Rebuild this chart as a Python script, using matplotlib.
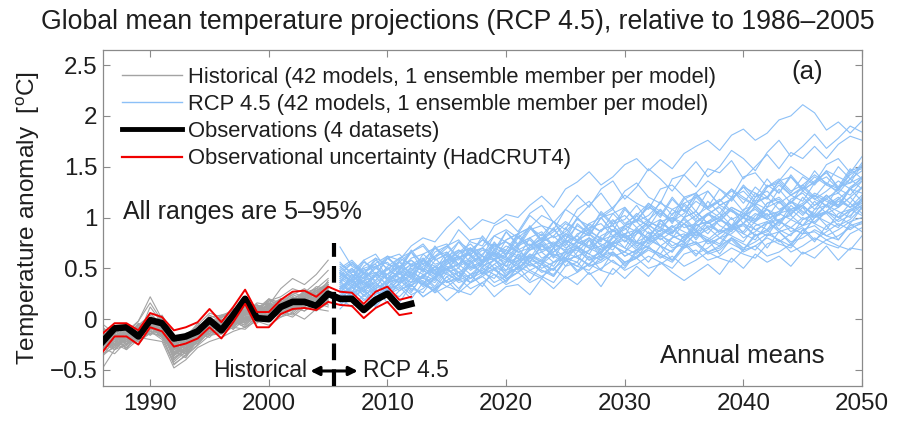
import matplotlib
matplotlib.use('Agg')
import matplotlib.pyplot as plt
from matplotlib.lines import Line2D
import numpy as np

plt.rcParams['font.family'] = ['Liberation Sans', 'DejaVu Sans']
plt.rcParams['mathtext.fontset'] = 'custom'
plt.rcParams['mathtext.rm'] = 'Liberation Sans'
plt.rcParams['axes.unicode_minus'] = True

# ---------------- data ----------------
hist_years = list(range(1986, 2006))
rcp_years = list(range(2006, 2051))
obs_years = list(range(1986, 2013))

obs_mean = [-0.22, -0.09, -0.08, -0.17, -0.01, -0.04, -0.19, -0.17, -0.12, -0.01,
            -0.11, 0.04, 0.20, 0.01, 0.00, 0.12, 0.17, 0.17, 0.13, 0.25,
            0.20, 0.20, 0.09, 0.19, 0.25, 0.12, 0.15]
obs_upper = [-0.14, -0.04, -0.04, -0.11, 0.06, 0.02, -0.11, -0.08, -0.03, 0.10,
             -0.03, 0.12, 0.29, 0.07, 0.07, 0.19, 0.27, 0.28, 0.22, 0.32,
             0.27, 0.26, 0.15, 0.27, 0.32, 0.19, 0.22]
obs_lower = [-0.32, -0.17, -0.17, -0.25, -0.08, -0.12, -0.27, -0.24, -0.19, -0.08,
             -0.19, -0.03, 0.15, -0.08, -0.08, 0.05, 0.10, 0.11, 0.09, 0.17,
             0.14, 0.13, 0.01, 0.11, 0.17, 0.04, 0.06]

# historical model anomalies, hundredths of a degree (1986-2005)
hist_models = [
    [-22,-15,-30,-10,-5, -12,-35,-28,-18,-10, -8,2,-4,10,6, 14,8,20,16,28],
    [-15,-25,-10,-18,2, -5,-30,-20,-22,-5, -12,-2,8,0,12, 10,18,12,24,20],
    [-30,-20,-18,-5,-12, -2,-25,-32,-12,-15, 0,-6,4,12,2, 18,12,22,28,18],
    [-10,-18,-22,-12,0, -10,-40,-30,-20,-2, -8,6,0,4,16, 8,22,16,20,32],
    [-25,-12,-20,-8,-15, -6,-28,-22,-8,-12, -2,-10,8,4,14, 6,20,26,18,30],
    [-18,-28,-12,-20,-2, -15,-45,-35,-25,-12, -15,-5,2,-2,8, 4,12,8,18,14],
    [-35,-22,-28,-15,-8, -18,-32,-38,-20,-5, -10,0,-6,6,4, 12,6,16,14,22],
    [-12,-8,-15,-2,22, 0,-20,-15,-8,2, 4,8,12,6,20, 16,24,30,22,38],
    [-20,-30,-18,-25,-10, -4,-22,-28,-14,-18, -6,4,-2,10,8, 16,14,18,26,24],
    [-28,-18,-8,-20,-6, -12,-36,-24,-16,-6, 0,-8,6,2,12, 18,10,24,20,34],
    [-8,-20,-14,-6,4, -6,-26,-18,-4,-10, 2,-4,10,14,6, 20,16,26,30,40],
    [-48,-30,-25,-18,-20, -22,-48,-40,-28,-22, -18,-12,-8,-2,-6, 2,6,0,10,8],
    [-15,-10,-22,-14,-4, 2,-18,-26,-10,-4, -8,6,4,12,16, 10,20,18,28,26],
    [-22,-26,-16,-8,-12, -14,-30,-20,-24,-8, -4,-10,0,8,4, 14,10,20,16,24],
    [-5,-14,-8,-16,12, -4,-24,-14,-10,4, -2,10,6,16,14, 30,40,34,44,58],
    [-32,-24,-30,-20,-14, -8,-38,-30,-14,-16, -10,-2,-8,2,0, 6,12,8,16,12],
    [-18,-12,-20,-10,-8, -16,-28,-34,-18,-8, -6,-2,10,4,10, 12,18,24,20,26],
    [-26,-16,-12,-22,-2, -10,-34,-22,-20,-12, -4,2,-4,8,14, 8,16,14,24,22],
    [-12,-22,-18,-4,-10, -2,-22,-30,-12,-6, -12,0,6,2,10, 18,14,22,20,30],
    [-20,-14,-26,-12,2, -8,-30,-26,-16,-2, -6,4,2,12,8, 14,22,18,26,36],
    [-36,-26,-20,-24,-12, -18,-42,-32,-22,-14, -12,-6,-2,4,-2, 8,4,14,12,18],
    [-14,-20,-10,-16,-6, 4,-16,-20,-6,-8, 4,-2,12,8,18, 14,26,22,32,30],
    [-24,-18,-14,-6,-16, -6,-32,-36,-18,-10, -2,-8,2,6,10, 16,12,20,24,20],
    [-10,-16,-24,-14,-2, -12,-28,-18,-12,0, -6,8,4,10,20, 12,18,28,24,34],
    [-28,-34,-22,-16,-8, -14,-36,-28,-24,-12, -14,-4,0,-4,6, 2,10,16,12,20],
    [-18,-8,-16,-12,0, -6,-26,-32,-14,-4, 0,-6,8,14,8, 16,22,18,30,28],
    [-22,-28,-18,-10,-4, -10,-34,-24,-10,-14, -8,0,-4,6,14, 10,14,22,18,26],
    [-16,-12,-8,-18,-6, 0,-20,-22,-16,-6, -2,6,10,4,12, 20,16,24,30,26],
    [-30,-16,-24,-14,-10, -12,-40,-28,-18,-8, -10,2,-2,8,6, 10,18,14,20,24],
    [-8,-18,-12,-2,16, -2,-22,-16,-6,6, 2,10,14,8,18, 22,30,26,36,48],
    [-26,-20,-28,-18,-12, -20,-44,-36,-26,-16, -14,-8,-10,0,2, 6,2,12,8,16],
    [-14,-22,-14,-8,0, -8,-24,-20,-12,-2, -4,2,8,12,6, 14,20,26,22,28],
    [-20,-10,-18,-6,-2, -4,-28,-34,-16,-10, -6,4,0,10,12, 8,16,22,26,32],
    [-34,-28,-16,-22,-14, -16,-32,-26,-20,-10, -8,-2,-8,2,4, 12,8,16,20,14],
    [-12,-6,-14,-10,6, -6,-22,-24,-8,-2, 2,8,4,14,10, 18,24,20,28,34],
    [-24,-30,-20,-12,-6, -10,-30,-22,-14,-12, -10,-4,2,0,10, 12,10,18,16,22],
    [-16,-24,-10,-14,-4, -14,-38,-30,-16,-6, -2,4,0,6,16, 10,20,16,22,30],
    [-22,-14,-26,-8,-8, -2,-26,-24,-10,-4, -6,6,8,2,12, 16,12,26,24,28],
    [-28,-22,-12,-18,-10, -12,-30,-34,-22,-10, -12,-4,4,6,2, 14,8,18,22,26],
    [-18,-26,-16,-6,-2, -8,-26,-18,-12,-8, 0,-6,6,10,8, 12,18,22,18,24],
    [-10,-14,-20,-12,0, -4,-24,-28,-14,-4, -4,2,10,6,14, 20,16,24,28,36],
    [-26,-18,-22,-14,-8, -16,-34,-26,-18,-14, -8,-2,-6,4,8, 6,14,12,20,18],
]

# RCP4.5 model anomalies, hundredths of a degree (2006-2050)
rcp_models = [
    [71,52,45,55,62, 58,72,80,76,90, 101,88,98,94,103, 100,112,121,110,128, 135,145,132,140,152, 158,146,157,148,163, 170,176,166,181,187, 176,183,196,200,211, 203,186,194,183,195],
    [45,38,56,50,62, 48,66,74,60,70, 88,76,72,92,98, 86,104,112,95,108, 122,110,128,136,118, 130,148,138,126,142, 155,140,150,166,158, 146,164,176,160,170, 182,168,178,190,184],
    [28,44,30,38,50, 41,36,58,52,47, 64,70,55,68,78, 84,102,92,88,108, 100,112,124,108,126, 134,120,114,138,142, 130,148,144,156,138, 150,162,148,164,158, 170,158,172,180,176],
    [14,24,8,20,30, 16,34,22,30,18, 28,24,36,22,32, 34,24,40,30,42, 34,46,32,50,40, 52,42,56,46,38, 46,54,44,60,50, 64,56,62,52,66, 60,72,58,70,68],
    [26,40,22,34,30, 46,28,42,52,36, 40,58,44,54,62, 48,64,56,70,52, 66,78,60,74,82, 70,86,72,80,94, 78,92,86,100,84, 96,104,88,98,110, 94,106,100,114,104],
    [38,26,46,32,44, 52,40,58,44,62, 50,70,56,74,64, 82,68,76,90,72, 94,84,100,86,108, 96,112,100,118,106, 122,110,116,128,114, 130,120,136,124,140, 132,146,128,142,150],
    [18,32,24,14,36, 40,26,44,32,50, 38,56,44,60,42, 64,52,58,70,60, 56,78,64,82,70, 88,74,84,92,78, 94,84,98,90,104, 96,108,94,112,102, 116,104,110,120,108],
    [48,36,52,60,40, 56,66,48,70,62, 58,78,80,64,86, 72,90,82,96,78, 100,86,106,94,98, 112,96,116,102,120, 106,126,112,118,130, 116,132,124,140,126, 136,144,130,148,138],
    [30,40,26,44,34, 48,32,50,44,58, 42,62,50,66,52, 70,56,74,60,78, 70,80,66,88,76, 90,78,98,84,100, 88,104,96,108,94, 112,100,116,102,120, 108,122,112,128,116],
    [36,50,32,46,44, 58,42,60,48,66, 54,70,58,76,62, 80,72,84,70,90, 76,94,86,98,82, 102,90,108,94,112, 98,116,104,120,106, 124,110,128,114,132, 120,134,124,138,128],
    [10,22,28,12,26, 32,20,36,26,42, 30,44,32,50,36, 52,38,54,42,60, 46,62,48,66,52, 68,56,72,58,74, 62,78,64,80,68, 84,70,86,74,88, 76,92,78,94,86],
    [52,40,58,44,60, 50,68,54,72,58, 76,62,82,68,86, 74,92,78,96,82, 100,88,104,92,110, 96,114,102,120,106, 124,110,128,116,132, 120,138,124,142,128, 146,132,150,138,154],
    [34,26,30,44,40, 36,52,48,40,56, 62,50,54,66,58, 52,70,76,64,60, 78,84,72,80,90, 76,82,94,88,80, 96,104,92,86,102, 108,98,104,116,106, 100,112,120,110,118],
    [42,56,46,38,52, 60,54,48,66,72, 60,68,78,70,64, 84,90,78,86,96, 88,82,100,108,94, 102,114,106,98,118, 124,110,116,128,120, 112,130,138,126,132, 142,134,128,146,150],
    [20,30,38,26,22, 36,44,32,40,50, 42,36,52,58,46, 50,62,56,48,64, 70,58,66,74,62, 68,80,72,66,82, 88,76,84,92,80, 86,96,88,82,98, 104,92,98,108,102],
    [40,32,46,52,38, 48,58,50,44,62, 68,56,64,74,66, 60,80,86,72,78, 92,84,76,96,102, 90,98,108,96,104, 116,108,100,120,126, 114,120,132,122,116, 134,140,128,138,146],
    [26,36,30,24,40, 46,36,42,52,44, 38,56,62,50,48, 64,58,54,70,76, 62,68,80,72,66, 84,90,78,86,94, 82,88,98,92,86, 102,108,96,104,112, 100,106,118,110,116],
    [56,44,40,50,60, 52,46,64,70,58, 66,74,62,58,78, 84,72,80,88,76, 82,94,100,86,92, 104,96,90,108,114, 102,110,118,106,100, 120,126,114,122,130, 118,126,136,128,140],
    [16,28,20,14,30, 34,24,30,40,32, 28,44,48,36,42, 52,46,40,56,60, 48,54,64,56,50, 66,72,60,68,76, 64,70,80,74,68, 82,88,76,84,90, 78,86,94,88,96],
    [42,34,38,50,44, 36,52,58,46,54, 62,50,58,68,60, 56,72,78,66,74, 82,70,78,88,80, 76,92,98,86,94, 102,90,98,108,100, 96,110,116,104,112, 122,110,118,128,124],
    [32,38,44,30,36, 48,40,34,52,58, 46,54,62,50,56, 68,74,60,66,78, 72,64,82,88,76, 84,94,82,90,98, 86,96,104,92,100, 110,98,106,116,104, 112,122,110,120,130],
    [22,34,28,36,26, 40,46,34,42,50, 38,44,54,48,42, 58,62,50,56,66, 60,54,70,74,62, 68,78,72,66,82, 86,74,80,90,84, 78,94,98,86,92, 102,96,90,106,112],
    [48,56,44,60,54, 50,66,72,58,64, 76,68,62,82,88, 80,90,102,96,88, 108,116,102,110,122, 114,108,128,132,120, 124,136,128,120,140, 144,130,136,150,142, 134,152,158,144,160],
    [36,26,42,46,32, 40,50,44,38,54, 60,48,56,64,52, 58,68,72,62,56, 74,80,68,76,84, 72,78,88,82,76, 92,96,84,90,100, 88,94,104,98,92, 108,112,100,106,116],
    [28,18,32,36,24, 30,40,34,28,42, 46,36,44,50,40, 46,54,48,42,58, 62,52,56,64,54, 60,68,62,56,70, 74,64,68,78,66, 72,80,74,70,84, 86,78,82,90,94],
    [40,48,36,30,50, 56,44,52,60,48, 54,66,70,58,64, 74,80,68,72,84, 78,90,94,82,88, 98,92,86,104,108, 96,102,112,106,100, 116,120,108,114,126, 118,112,130,134,140],
    [20,12,24,30,16, 28,34,22,30,38, 26,36,42,32,38, 46,36,42,50,40, 46,54,48,44,56, 60,50,54,62,52, 58,66,60,56,68, 72,62,66,74,64, 70,78,72,68,82],
    [46,36,50,54,40, 52,58,46,62,66, 54,60,70,64,58, 74,80,68,74,84, 78,72,88,92,80, 86,96,90,84,100, 106,94,100,110,104, 98,114,118,106,112, 122,116,110,128,136],
    [30,42,36,26,38, 44,50,36,42,52, 46,40,56,60,48, 54,64,58,52,68, 72,60,66,76,70, 64,80,84,72,78, 86,80,74,90,94, 82,88,96,90,84, 100,104,92,98,110],
    [50,58,46,42,60, 64,52,58,70,74, 60,66,78,72,68, 84,90,76,82,94, 88,82,100,104,92, 98,110,104,96,114, 120,108,116,126,118, 112,130,134,122,128, 140,132,126,144,148],
    [14,26,30,16,28, 22,34,38,26,32, 40,30,36,44,34, 40,48,42,36,52, 56,44,50,58,48, 54,62,56,50,64, 68,58,62,70,64, 60,74,78,66,72, 80,74,70,84,90],
    [38,46,50,36,44, 52,46,40,58,64, 52,58,68,62,56, 72,78,66,72,82, 76,70,88,92,80, 86,96,90,84,100, 106,94,100,110,104, 98,114,120,108,114, 124,118,112,130,138],
    [30,36,40,28,22, 36,42,34,30,46, 50,40,46,54,44, 50,60,54,48,64, 68,58,62,72,66, 60,76,80,70,74, 84,78,72,88,92, 82,86,96,90,84, 100,106,96,102,112],
    [54,46,58,64,48, 60,66,54,62,72, 78,64,70,82,76, 70,88,92,80,86, 98,92,86,104,110, 96,102,114,108,100, 120,126,112,118,130, 124,118,136,140,128, 134,146,140,134,152],
    [22,32,18,30,38, 28,36,42,30,38, 46,36,42,50,40, 46,56,48,44,58, 62,52,58,66,56, 62,70,64,58,72, 76,66,72,80,70, 76,84,78,72,88, 92,82,88,96,100],
    [42,50,40,52,56, 44,54,60,48,56, 66,70,56,62,72, 66,60,76,82,70, 76,86,80,74,92, 96,84,90,100,94, 88,104,110,98,104, 114,108,102,118,124, 112,118,128,122,136],
    [32,22,38,42,28, 34,46,40,36,50, 54,44,48,58,52, 46,62,66,56,60, 70,64,58,74,78, 68,72,82,76,70, 86,90,80,84,94, 88,82,98,102,92, 96,106,100,94,110],
    [44,36,48,52,38, 46,54,48,42,58, 62,52,56,66,60, 54,68,74,62,66, 76,70,64,80,84, 74,78,88,82,76, 92,96,86,90,100, 94,88,104,108,98, 102,112,106,100,120],
    [24,32,36,22,30, 38,30,26,42,46, 36,40,50,44,38, 52,56,46,50,58, 52,48,62,66,56, 60,70,64,58,72, 76,66,70,80,74, 68,82,86,76,80, 88,82,78,92,96],
    [36,44,34,42,50, 40,48,54,44,50, 60,64,52,58,68, 62,56,72,76,66, 70,80,74,68,84, 88,78,82,92,86, 80,96,100,88,94, 104,98,92,108,112, 102,106,116,110,122],
    [30,38,28,20,36, 40,32,44,48,36, 42,52,46,40,56, 60,48,54,64,58, 52,68,72,62,66, 76,70,64,80,84, 74,78,88,82,76, 92,96,86,90,100, 94,88,104,108,114],
    [46,54,44,58,50, 48,60,64,54,58, 68,62,56,72,76, 66,70,80,74,68, 84,88,78,82,92, 86,80,96,100,90, 94,104,98,92,108, 112,102,106,116,110, 104,120,124,114,130],
]

legend_labels = ['Historical (42 models, 1 ensemble member per model)',
                 'RCP 4.5 (42 models, 1 ensemble member per model)',
                 'Observations (4 datasets)',
                 'Observational uncertainty (HadCRUT4)']
title = 'Global mean temperature projections (RCP 4.5), relative to 1986\u20132005'
x_ticks = [1990, 2000, 2010, 2020, 2030, 2040, 2050]
y_ticks = [-0.5, 0, 0.5, 1, 1.5, 2, 2.5]
y_tick_labels = ['\u22120.5', '0', '0.5', '1', '1.5', '2', '2.5']
scenario_split = 2005.5

# ---------------- style ----------------
GRAY = '#a3a3a3'
BLUE = '#8cc0f7'
RED = '#f00000'
TXT = '#1e1e1e'
FRAME = '#8a8a8a'

fig = plt.figure(figsize=(9.10, 4.21), dpi=100)
ax = fig.add_axes([0.1129, 0.0838, 0.8344, 0.7974])

for vals in hist_models:
    ax.plot(hist_years, np.array(vals) / 100.0, color=GRAY, lw=0.8, zorder=2)
for vals in rcp_models:
    ax.plot(rcp_years, np.array(vals) / 100.0, color=BLUE, lw=0.8, zorder=2)

ax.plot(obs_years, obs_mean, color='black', lw=4.8, zorder=4)
ax.plot(obs_years, obs_upper, color=RED, lw=1.4, zorder=5)
ax.plot(obs_years, obs_lower, color=RED, lw=1.4, zorder=5)

ax.plot([scenario_split, scenario_split], [-0.66, 0.75], color='black', lw=3.0,
        dashes=(4.0, 2.2), zorder=6)

handles = [Line2D([], [], color=GRAY, lw=1.0),
           Line2D([], [], color=BLUE, lw=1.0),
           Line2D([], [], color='black', lw=3.5),
           Line2D([], [], color=RED, lw=1.6)]
leg = ax.legend(handles, legend_labels, loc='upper left', frameon=False,
                bbox_to_anchor=(0.026, 0.950), borderaxespad=0, borderpad=0,
                fontsize=15.8, handlelength=2.7, handletextpad=0.28,
                labelspacing=0.28)
for t in leg.get_texts():
    t.set_color(TXT)

ax.text(1987.7, 1.056, 'All ranges are 5\u201395%', fontsize=18, color=TXT,
        ha='left', va='center')
ax.text(2045.4, 2.43, '(a)', fontsize=18.5, color=TXT, ha='center', va='center')
ax.text(2046.8, -0.36, 'Annual means', fontsize=18.5, color=TXT, ha='right', va='center')
ax.text(2003.2, -0.51, 'Historical', fontsize=16.5, color=TXT, ha='right', va='center')
ax.text(2007.9, -0.51, 'RCP 4.5', fontsize=16.5, color=TXT, ha='left', va='center')
ax.annotate('', xy=(2003.5, -0.51), xytext=(2007.5, -0.51),
            arrowprops=dict(arrowstyle='<|-|>', color='black', lw=2.2,
                            mutation_scale=13, shrinkA=0, shrinkB=0), zorder=7)

ax.set_xlim(1986, 2050)
ax.set_ylim(-0.655, 2.648)
ax.set_xticks(x_ticks)
ax.set_yticks(y_ticks)
ax.set_yticklabels(y_tick_labels)
ax.tick_params(direction='in', length=5, width=0.8, color=FRAME, labelsize=17.4,
               labelcolor=TXT, top=True, right=True)
ax.tick_params(axis='x', pad=5)
ax.tick_params(axis='y', pad=4)
for s in ax.spines.values():
    s.set_color(FRAME)
    s.set_linewidth(0.9)

ax.set_ylabel('Temperature anomaly  [$^{\\rm o}$C]', fontsize=17.6, color=TXT, labelpad=5)
fig.text(0.503, 0.948, title, fontsize=19.2, color=TXT, ha='center', va='center')

fig.savefig('out.png', dpi=100)
